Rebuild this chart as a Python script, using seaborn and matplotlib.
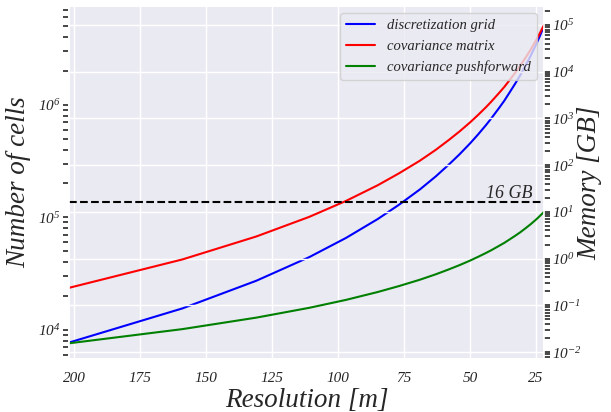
import numpy as np
import pandas as pd
import matplotlib
matplotlib.use("Agg")
import matplotlib.pyplot as plt
import seaborn as sns

# values
RESOLUTION = [202, 159, 131, 111, 97, 85, 77, 69, 63, 58, 54, 50, 47, 44, 42,
              39, 37, 35, 33, 31, 29, 27, 25, 23.5, 22]
GRID_CELLS = [7.7e3, 1.55e4, 2.73e4, 4.42e4, 6.56e4, 9.65e4, 1.29e5, 1.77e5,
              2.31e5, 2.95e5, 3.63e5, 4.54e5, 5.44e5, 6.59e5, 7.55e5, 9.38e5,
              1.09e6, 1.29e6, 1.53e6, 1.83e6, 2.23e6, 2.74e6, 3.43e6, 4.12e6,
              4.99e6]
COV_MATRIX_GB = [0.237, 0.961, 2.98, 7.81, 17.2, 37.2, 66.6, 125, 213, 348,
                 527, 824, 1184, 1737, 2280, 3520, 4750, 6660, 9360, 13400,
                 19900, 30000, 47100, 67900, 99600]
COV_PUSHFORWARD_GB = [0.0154, 0.031, 0.0546, 0.0884, 0.131, 0.193, 0.258,
                      0.354, 0.462, 0.59, 0.726, 0.908, 1.09, 1.32, 1.51, 1.88,
                      2.18, 2.58, 3.06, 3.66, 4.46, 5.48, 6.86, 8.24, 9.98]
X_TICKS = [200, 175, 150, 125, 100, 75, 50, 25]
MEMORY_LIMIT_GB = 16


def plot_memory(df: pd.DataFrame) -> None:
	sns.set_theme(style="darkgrid")
	plt.rcParams["font.family"] = ["Liberation Serif", "DejaVu Serif"]
	plt.rcParams["font.style"] = "italic"
	plt.rcParams["mathtext.fontset"] = "custom"
	plt.rcParams["mathtext.rm"] = "Liberation Serif:italic"
	plt.rcParams["mathtext.it"] = "Liberation Serif:italic"

	fig, ax1 = plt.subplots(figsize=(6.11, 4.12), dpi=100)
	fig.subplots_adjust(left=0.1129, right=0.8903, bottom=0.1286, top=0.9854)
	ax2 = ax1.twinx()

	sns.lineplot(data=df, x="res", y="cells", ax=ax1, color="blue",
				 label="discretization grid", legend=False)
	sns.lineplot(data=df, x="res", y="cov", ax=ax2, color="red",
				 label="covariance matrix", legend=False)
	sns.lineplot(data=df, x="res", y="push", ax=ax2, color="green",
				 label="covariance pushforward", legend=False)
	ax2.axhline(MEMORY_LIMIT_GB, color="black", linestyle="--", linewidth=1.5)
	ax2.text(44, MEMORY_LIMIT_GB, "16 GB", ha="left", va="bottom", fontsize=13)

	ax1.set_yscale("log")
	ax2.set_yscale("log")
	ax1.set_xlim(max(df["res"]), min(df["res"]))
	ax1.set_xticks(X_TICKS)
	ax1.set_ylim(5.5e3, 7.55e6)
	ax2.set_ylim(7.1e-3, 2.55e5)
	ax1.grid(False, axis="y")
	ax2.grid(False, axis="x")

	ax1.tick_params(axis="y", which="both", left=True, length=4, width=1.2,
					color=".15", labelsize=11, pad=2)
	ax2.tick_params(axis="y", which="both", right=True, length=4, width=1.2,
					color=".15", labelsize=11, pad=2)
	ax1.tick_params(axis="x", labelsize=11)

	ax1.set_xlabel("Resolution [m]", fontsize=19.5)
	ax1.set_ylabel("Number of cells", fontsize=19.5)
	ax2.set_xlabel("")
	ax2.set_ylabel("Memory [GB]", fontsize=19.5)
	ax1.xaxis.set_label_coords(0.5, -0.082)
	ax1.yaxis.set_label_coords(-0.0795, 0.5)
	ax2.yaxis.set_label_coords(1.071, 0.5)

	handles1, labels1 = ax1.get_legend_handles_labels()
	handles2, labels2 = ax2.get_legend_handles_labels()
	ax2.legend(handles1 + handles2, labels1 + labels2, loc="upper right",
			   fontsize=10.5, frameon=True)

	fig.savefig("out.png", dpi=100)


def main():
	df = pd.DataFrame({
		"res": RESOLUTION,
		"cells": GRID_CELLS,
		"cov": COV_MATRIX_GB,
		"push": COV_PUSHFORWARD_GB,
	})
	plot_memory(df)


if __name__ == "__main__":
	main()
